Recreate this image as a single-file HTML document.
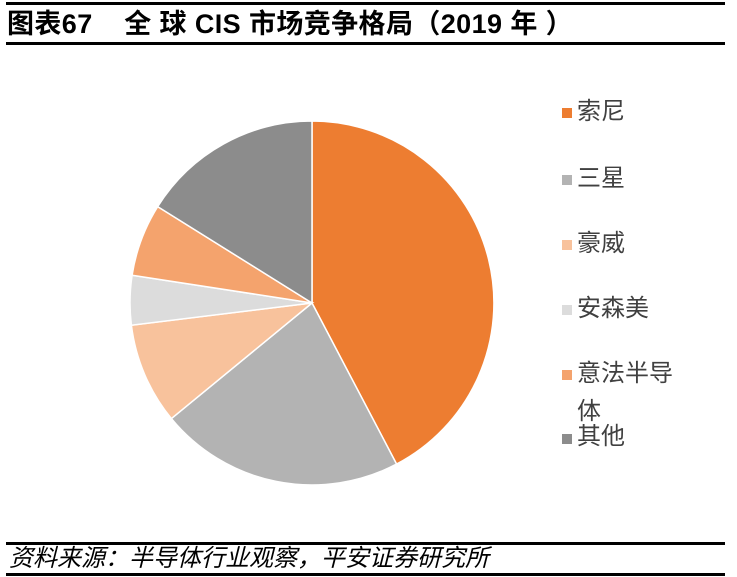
<!DOCTYPE html>
<html><head><meta charset="utf-8"><style>
body{margin:0;background:#fff;width:737px;height:577px;position:relative;overflow:hidden;font-family:"Liberation Sans","Noto Sans CJK SC",sans-serif}
.ln{position:absolute;left:6px;width:719px;background:#000}
.t{position:absolute;white-space:nowrap}
.lg{position:absolute;left:562px;width:10px;height:10px}
.lt{position:absolute;left:577px;font-size:24px;color:#404040;line-height:24px}
</style></head><body>
<div class="ln" style="top:2px;height:3px"></div>
<div class="t" style="left:7px;top:7px;font-size:27px;font-weight:bold;line-height:34px;letter-spacing:0.4px">图表67&nbsp;&nbsp;&nbsp;&nbsp;全 球 CIS 市场竞争格局（2019 年 ）</div>
<div class="ln" style="top:42px;height:3px"></div>
<svg style="position:absolute;left:0;top:0" width="737" height="577">
<g stroke="#fff" stroke-width="1.5">
<path d="M312,303 L312,121 A182,182 0 0 1 396.6,464.1 Z" fill="#ED7D31"/>
<path d="M312,303 L396.6,464.1 A182,182 0 0 1 171.4,418.6 Z" fill="#B3B3B3"/>
<path d="M312,303 L171.4,418.6 A182,182 0 0 1 131.4,325.2 Z" fill="#F8C29C"/>
<path d="M312,303 L131.4,325.2 A182,182 0 0 1 132.1,275.2 Z" fill="#DCDCDC"/>
<path d="M312,303 L132.1,275.2 A182,182 0 0 1 157.7,206.6 Z" fill="#F4A36D"/>
<path d="M312,303 L157.7,206.6 A182,182 0 0 1 312,121 Z" fill="#8C8C8C"/>
</g></svg>
<div class="lg" style="top:108px;background:#ED7D31"></div><div class="lt" style="top:100px">索尼</div>
<div class="lg" style="top:175px;background:#B3B3B3"></div><div class="lt" style="top:167px">三星</div>
<div class="lg" style="top:240px;background:#F8C29C"></div><div class="lt" style="top:232px">豪威</div>
<div class="lg" style="top:305px;background:#DCDCDC"></div><div class="lt" style="top:297px">安森美</div>
<div class="lg" style="top:370px;background:#F4A36D"></div><div class="lt" style="top:362px">意法半导</div>
<div class="lt" style="top:400px">体</div>
<div class="lg" style="top:434px;background:#8C8C8C"></div><div class="lt" style="top:425px">其他</div>
<div class="ln" style="top:542px;height:3px"></div>
<div class="t" style="left:9px;top:545px;font-size:24px;font-style:italic;line-height:28px">资料来源：半导体行业观察，平安证券研究所</div>
<div class="ln" style="top:573px;height:3px"></div>
</body></html>
